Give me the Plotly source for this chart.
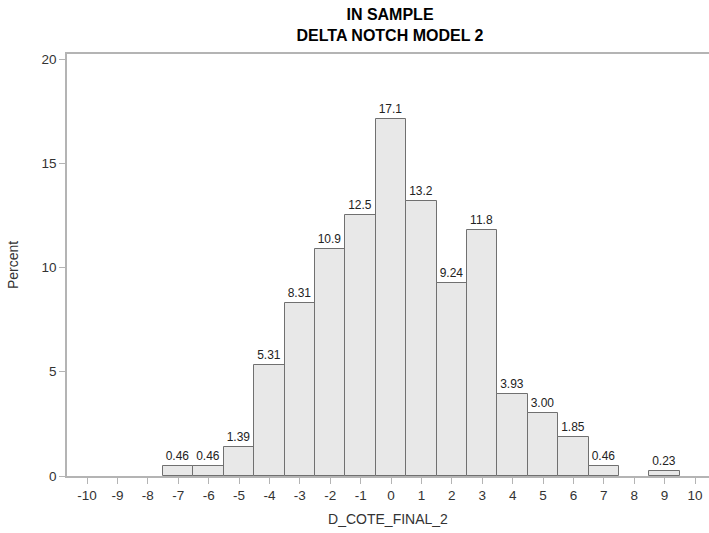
import plotly.graph_objects as go

bins = [-7, -6, -5, -4, -3, -2, -1, 0, 1, 2, 3, 4, 5, 6, 7, 9]
percent = [0.46, 0.46, 1.39, 5.31, 8.31, 10.9, 12.5, 17.1, 13.2, 9.24, 11.8, 3.93, 3.00, 1.85, 0.46, 0.23]
labels = ["0.46", "0.46", "1.39", "5.31", "8.31", "10.9", "12.5", "17.1", "13.2", "9.24", "11.8", "3.93", "3.00", "1.85", "0.46", "0.23"]
x_ticks = list(range(-10, 11))
y_ticks = [0, 5, 10, 15, 20]

FONT = "Liberation Sans, Arial, sans-serif"

fig = go.Figure(go.Bar(
    x=bins, y=percent, width=1,
    text=labels, textposition="outside", cliponaxis=False,
    textfont=dict(family=FONT, size=12, color="#222"),
    marker=dict(color="#e8e8e8", line=dict(color="#707070", width=1)),
))

fig.update_layout(
    width=709, height=533,
    margin=dict(l=67, r=0, t=54, b=57),
    paper_bgcolor="white", plot_bgcolor="white",
    showlegend=False,
    title=dict(text="<b>IN SAMPLE<br>DELTA NOTCH MODEL 2</b>",
               x=390/709, xanchor="center", y=1 - 20/533, yanchor="bottom",
               font=dict(family=FONT, size=16, color="#000")),
    xaxis=dict(range=[-10.66, 10.46], tickvals=x_ticks, ticktext=[str(v) for v in x_ticks],
               showgrid=False, zeroline=False, showline=True, linecolor="#b4b4b4", linewidth=1.5,
               mirror=True, ticks="outside", ticklen=6, tickcolor="#b4b4b4",
               tickfont=dict(family=FONT, size=13.5, color="#333"),
               title=dict(text="D_COTE_FINAL_2", standoff=12,
                          font=dict(family=FONT, size=14, color="#333"))),
    yaxis=dict(range=[0, 20.24], tickvals=y_ticks,
               showgrid=False, zeroline=False, showline=True, linecolor="#b4b4b4", linewidth=1.5,
               ticks="outside", ticklen=6, tickcolor="#b4b4b4",
               tickfont=dict(family=FONT, size=13.5, color="#333"),
               title=dict(text="Percent", standoff=20,
                          font=dict(family=FONT, size=14, color="#333"))),
    bargap=0,
)

fig.write_html("out.html", config={"displayModeBar": False},
               post_script="document.body.style.margin='0';")
